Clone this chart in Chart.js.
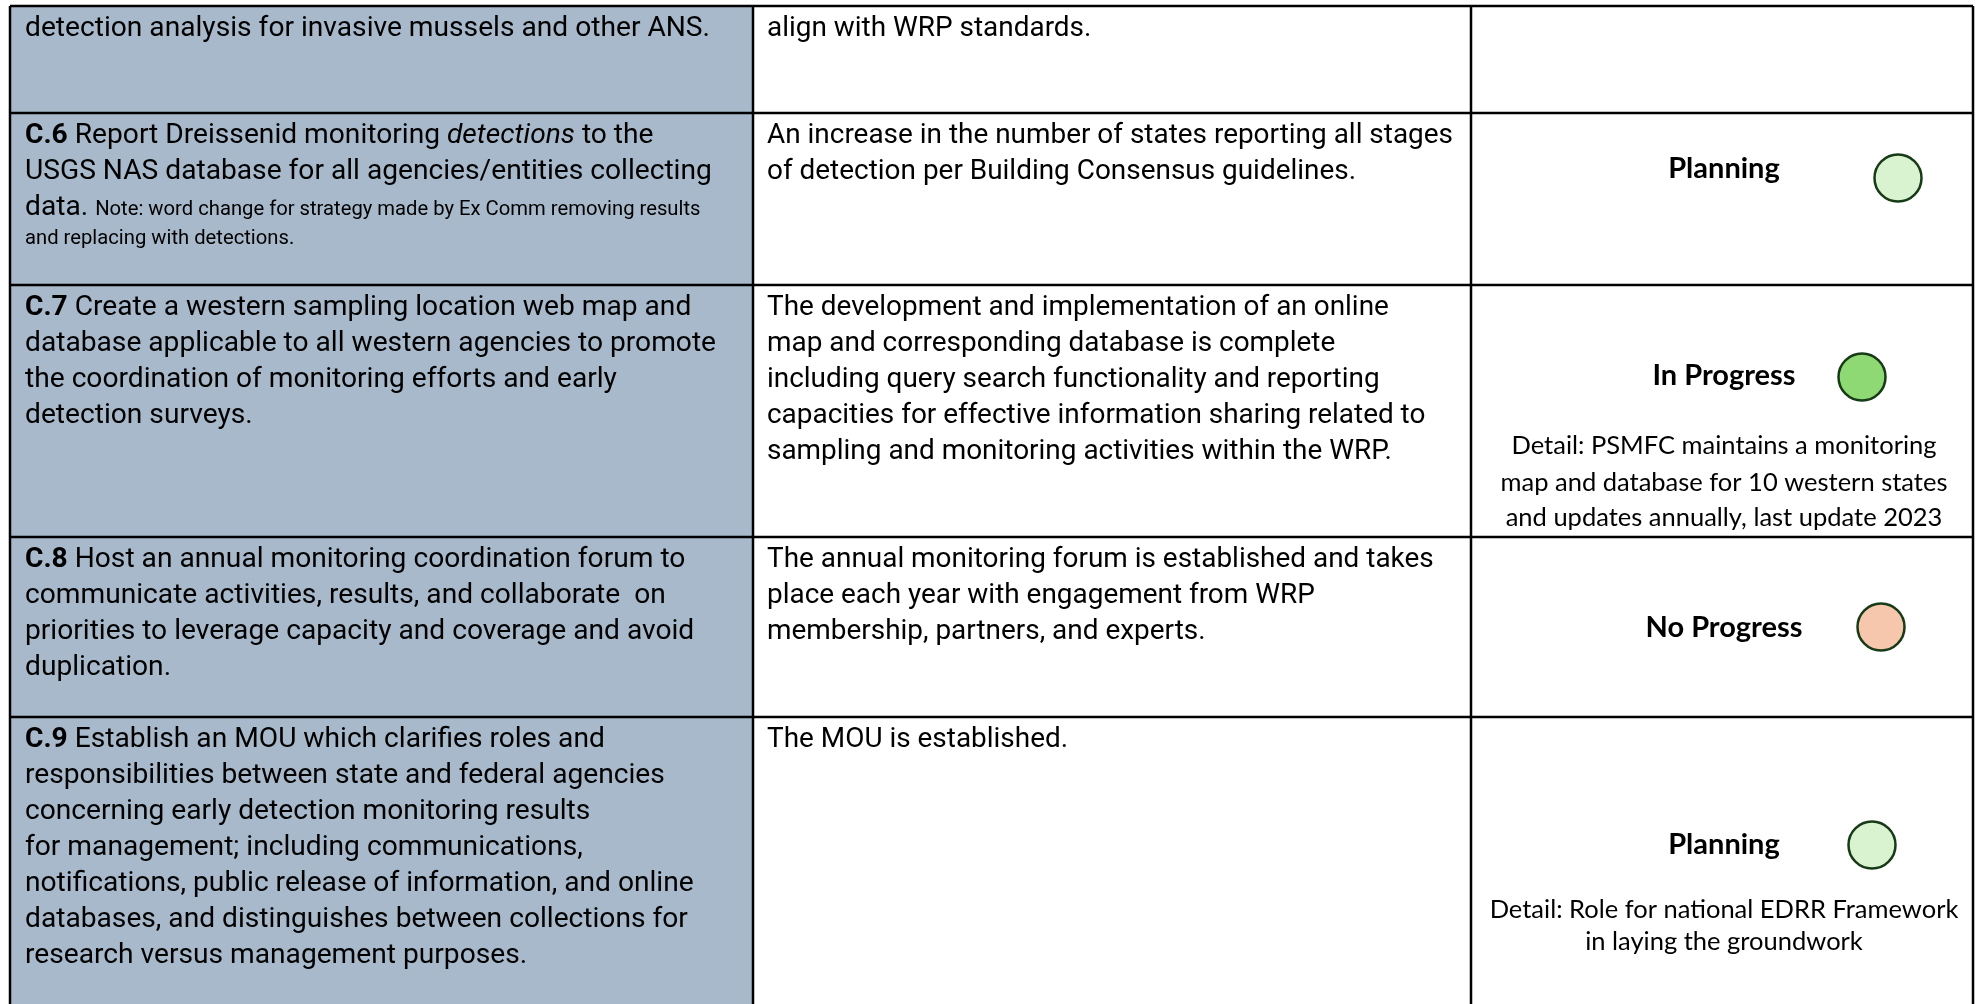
<!DOCTYPE html>
<html>
<head>
<meta charset="utf-8">
<script src="https://cdn.jsdelivr.net/npm/chart.js@4.4.1/dist/chart.umd.min.js"></script>
<style>
  html, body { margin: 0; padding: 0; background: #fff; }
  canvas { display: block; }
</style>
</head>
<body>
<canvas id="tableChart" width="1977" height="1004"></canvas>
<script>
// rows of the strategy table (first one is cut off at the top)
const rowIds = ["C.5", "C.6", "C.7", "C.8", "C.9"];

// **bold**, *italic*, ~small note~
const strategyLines = [
  ["detection analysis for invasive mussels and other ANS."],
  ["**C.6** Report Dreissenid monitoring *detections* to the",
   "USGS NAS database for all agencies/entities collecting",
   "data. ~Note: word change for strategy made by Ex Comm removing results~",
   "~and replacing with detections.~"],
  ["**C.7** Create a western sampling location web map and",
   "database applicable to all western agencies to promote",
   "the coordination of monitoring efforts and early",
   "detection surveys."],
  ["**C.8** Host an annual monitoring coordination forum to",
   "communicate activities, results, and collaborate  on",
   "priorities to leverage capacity and coverage and avoid",
   "duplication."],
  ["**C.9** Establish an MOU which clarifies roles and",
   "responsibilities between state and federal agencies",
   "concerning early detection monitoring results",
   "for management; including communications,",
   "notifications, public release of information, and online",
   "databases, and distinguishes between collections for",
   "research versus management purposes."]
];

const outcomeLines = [
  ["align with WRP standards."],
  ["An increase in the number of states reporting all stages",
   "of detection per Building Consensus guidelines."],
  ["The development and implementation of an online",
   "map and corresponding database is complete",
   "including query search functionality and reporting",
   "capacities for effective information sharing related to",
   "sampling and monitoring activities within the WRP."],
  ["The annual monitoring forum is established and takes",
   "place each year with engagement from WRP",
   "membership, partners, and experts."],
  ["The MOU is established."]
];

const statusLabels = [null, "Planning", "In Progress", "No Progress", "Planning"];

const statusDetails = [
  [],
  [],
  ["Detail: PSMFC maintains a monitoring",
   "map and database for 10 western states",
   "and updates annually, last update 2023"],
  [],
  ["Detail: Role for national EDRR Framework",
   "in laying the groundwork"]
];

// ---- layout / style ----
const W = 1977, H = 1004;
const colX = [10, 753, 1471, 1973];
const rowY = [6, 113, 285, 537, 717, 1004];
const firstLine = 20, linePitch = 36, smallPitch = 29;
const labelY = [null, 169, 376, 628, 845];
const circleOffset = [null, 174, 138, 157, 148];
const circleDy = [null, 9, 1, -1, 0];
const detailY = [[], [], [446, 483, 518], [], [910, 942]];
const labelCenter = 1724;

const statusColors = {
  "Planning": "#D9F2D0",
  "In Progress": "#8ED973",
  "No Progress": "#F6C6AD"
};

const mainFont = "Roboto";
const mainSize = 27;
const smallSize = 19.4;
const sideFont = "Lato";

function runs(line) {
  return line.split(/(\*\*[^*]+\*\*|\*[^*]+\*|~[^~]+~)/).filter(s => s).map(s => {
    if (s.startsWith("**")) return { t: s.slice(2, -2), w: "bold", i: "", size: mainSize };
    if (s.startsWith("*")) return { t: s.slice(1, -1), w: "normal", i: "italic ", size: mainSize };
    if (s.startsWith("~")) return { t: s.slice(1, -1), w: "normal", i: "", size: smallSize };
    return { t: s, w: "normal", i: "", size: mainSize };
  });
}

// squeeze the sans a little so the lines break where the reference breaks
function fitScale(ctx, sample, target) {
  ctx.font = `normal ${mainSize}px ${mainFont}`;
  return target / ctx.measureText(sample).width;
}

function drawCell(ctx, lines, x0, top, sx) {
  let y = top + firstLine;
  lines.forEach((line, li) => {
    const rs = runs(line);
    const allSmall = rs.every(r => r.size === smallSize);
    if (li > 0) y += allSmall ? smallPitch : linePitch;
    let x = x0;
    rs.forEach(r => {
      ctx.font = `${r.i}${r.w} ${r.size}px ${mainFont}`;
      ctx.save();
      ctx.translate(x, y + 0.36 * mainSize);
      ctx.scale(sx, 1);
      ctx.fillText(r.t, 0, 0);
      ctx.restore();
      x += ctx.measureText(r.t).width * sx;
    });
  });
}

const tablePlugin = {
  id: "tableGrid",
  beforeDatasetsDraw(chart) {
    const { ctx, scales } = chart;
    const px = v => scales.x.getPixelForValue(v);
    const py = v => scales.y.getPixelForValue(v);
    const sx1 = fitScale(ctx, "detection analysis for invasive mussels and other ANS.", 685);
    const sx2 = fitScale(ctx, "An increase in the number of states reporting all stages", 686);
    ctx.save();
    // shaded strategy column
    ctx.fillStyle = "#A7B9CA";
    ctx.fillRect(px(colX[0]), py(rowY[0]), px(colX[1]) - px(colX[0]), py(H) - py(rowY[0]));

    ctx.fillStyle = "#000";
    ctx.textAlign = "left";
    ctx.textBaseline = "alphabetic";
    rowIds.forEach((id, i) => {
      drawCell(ctx, strategyLines[i], px(colX[0] + 15), py(rowY[i]), sx1);
      drawCell(ctx, outcomeLines[i], px(colX[1] + 14), py(rowY[i]), sx2);
      ctx.textAlign = "center";
      ctx.textBaseline = "middle";
      if (statusLabels[i]) {
        ctx.font = `bold 29px ${sideFont}`;
        ctx.fillText(statusLabels[i], px(labelCenter), py(labelY[i]));
      }
      ctx.font = `normal 25.5px ${sideFont}`;
      statusDetails[i].forEach((d, k) => ctx.fillText(d, px(labelCenter), py(detailY[i][k])));
      ctx.textAlign = "left";
      ctx.textBaseline = "alphabetic";
    });

    // grid lines
    ctx.strokeStyle = "#000";
    ctx.lineWidth = 2.5;
    ctx.beginPath();
    colX.forEach(c => { ctx.moveTo(px(c), py(rowY[0])); ctx.lineTo(px(c), py(H)); });
    rowY.slice(0, -1).forEach(r => { ctx.moveTo(px(colX[0]), py(r)); ctx.lineTo(px(colX[3]), py(r)); });
    ctx.stroke();
    ctx.restore();
  }
};

const points = [];
const pointColors = [];
rowIds.forEach((id, i) => {
  if (!statusLabels[i]) return;
  points.push({ x: labelCenter + circleOffset[i], y: labelY[i] + circleDy[i], id });
  pointColors.push(statusColors[statusLabels[i]]);
});

new Chart(document.getElementById("tableChart"), {
  type: "scatter",
  data: {
    datasets: [{
      label: "Status",
      data: points,
      backgroundColor: pointColors,
      borderColor: "#173B17",
      borderWidth: 2.5,
      pointRadius: 23.5,
      pointHoverRadius: 23.5,
      clip: false
    }]
  },
  options: {
    responsive: false,
    animation: false,
    devicePixelRatio: 1,
    events: [],
    layout: { padding: 0, autoPadding: false },
    plugins: { legend: { display: false }, tooltip: { enabled: false } },
    scales: {
      x: { type: "linear", min: 0, max: W, display: false },
      y: { type: "linear", min: 0, max: H, reverse: true, display: false }
    }
  },
  plugins: [tablePlugin]
});
</script>
</body>
</html>
